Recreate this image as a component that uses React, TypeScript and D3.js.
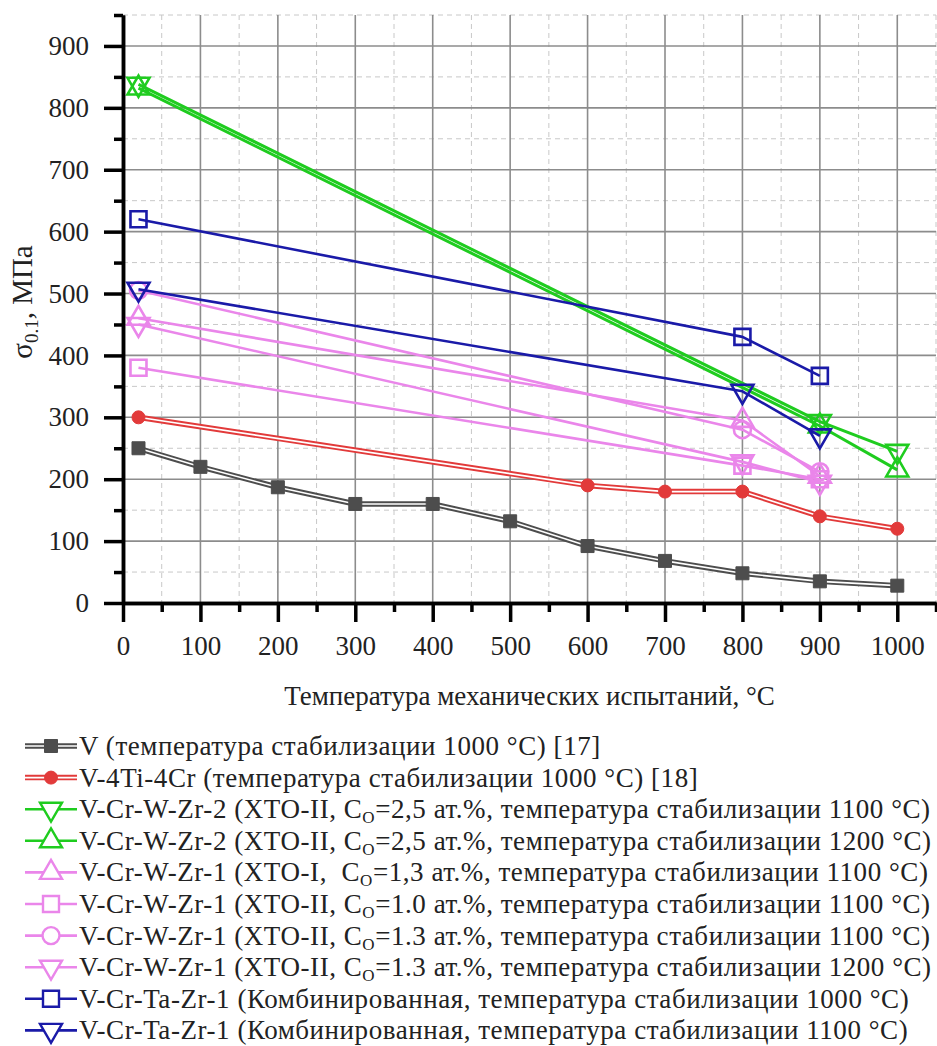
import { useCallback } from "react";
import * as d3 from "d3";

const W = 937;
const H = 1046;

// temperature (°C) and yield strength sigma 0.1 (MPa)
const tempV = [20, 100, 200, 300, 400, 500, 600, 700, 800, 900, 1000];
const sigmaV = [250, 220, 187, 160, 160, 132, 92, 68, 48, 35, 28];

const tempTiCr = [20, 600, 700, 800, 900, 1000];
const sigmaTiCr = [300, 190, 180, 180, 140, 120];

const tempW2 = [20, 900, 1000];
const sigmaW2_1100 = [838, 293, 245];
const sigmaW2_1200 = [832, 286, 215];

const tempW1 = [20, 800, 900];
const sigmaW1_xtoI = [460, 295, 205];
const sigmaW1_10 = [380, 222, 200];
const sigmaW1_13_1100 = [505, 280, 212];
const sigmaW1_13_1200 = [450, 228, 195];

const tempTa = [20, 800, 900];
const sigmaTa_1000 = [620, 430, 367];
const sigmaTa_1100 = [507, 342, 270];

const xMajor = d3.range(0, 1001, 100);
const xMinor = d3.range(50, 1051, 100);
const yMajor = d3.range(0, 901, 100);
const yMinor = d3.range(50, 951, 100);

const labels = [
  ["V (температура стабилизации 1000 °C) [17]", "", ""],
  ["V-4Ti-4Cr (температура стабилизации 1000 °C) [18]", "", ""],
  ["V-Cr-W-Zr-2 (ХТО-II, C", "O", "=2,5 ат.%, температура стабилизации 1100 °C)"],
  ["V-Cr-W-Zr-2 (ХТО-II, C", "O", "=2,5 ат.%, температура стабилизации 1200 °C)"],
  ["V-Cr-W-Zr-1 (ХТО-I,  C", "O", "=1,3 ат.%, температура стабилизации 1100 °C)"],
  ["V-Cr-W-Zr-1 (ХТО-II, C", "O", "=1.0 ат.%, температура стабилизации 1100 °C)"],
  ["V-Cr-W-Zr-1 (ХТО-II, C", "O", "=1.3 ат.%, температура стабилизации 1100 °C)"],
  ["V-Cr-W-Zr-1 (ХТО-II, C", "O", "=1.3 ат.%, температура стабилизации 1200 °C)"],
  ["V-Cr-Ta-Zr-1 (Комбинированная, температура стабилизации 1000 °C)", "", ""],
  ["V-Cr-Ta-Zr-1 (Комбинированная, температура стабилизации 1100 °C)", "", ""],
];

const GRAY = "#4d4d4d";
const RED = "#e23a3a";
const GREEN = "#1fcc1f";
const PINK = "#ea86ea";
const BLUE = "#1a1aa8";

const series = [
  { x: tempV, y: sigmaV, color: GRAY, marker: "square", filled: true, double: true },
  { x: tempTiCr, y: sigmaTiCr, color: RED, marker: "circle", filled: true, double: true },
  { x: tempW2, y: sigmaW2_1100, color: GREEN, marker: "triDown", filled: false, double: false },
  { x: tempW2, y: sigmaW2_1200, color: GREEN, marker: "triUp", filled: false, double: false },
  { x: tempW1, y: sigmaW1_xtoI, color: PINK, marker: "triUp", filled: false, double: false },
  { x: tempW1, y: sigmaW1_10, color: PINK, marker: "square", filled: false, double: false },
  { x: tempW1, y: sigmaW1_13_1100, color: PINK, marker: "circle", filled: false, double: false },
  { x: tempW1, y: sigmaW1_13_1200, color: PINK, marker: "triDown", filled: false, double: false },
  { x: tempTa, y: sigmaTa_1000, color: BLUE, marker: "square", filled: false, double: false },
  { x: tempTa, y: sigmaTa_1100, color: BLUE, marker: "triDown", filled: false, double: false },
];

const FONT = "Liberation Serif, Tinos, Times New Roman, Times, Nimbus Roman, FreeSerif, Noto Serif, DejaVu Serif, serif";

const markerPath = (type, filled) => {
  if (type == "square") {
    const h = filled ? 6.5 : 8;
    return `M${-h},${-h}H${h}V${h}H${-h}Z`;
  }
  if (type == "circle") {
    const r = filled ? 6.5 : 8.5;
    return `M${r},0A${r},${r} 0 1,1 ${-r},0A${r},${r} 0 1,1 ${r},0Z`;
  }
  if (type == "triDown") {
    return "M-11,-6.5L11,-6.5L0,12.5Z";
  }
  return "M-11,6.5L11,6.5L0,-12.5Z";
};

const App = () => {
  const chart = useCallback((node) => {
    if (node == null) return;
    const svg = d3.select(node);
    svg.selectAll("*").remove();

    const marginLeft = 123;
    const marginTop = 15;
    const plotBottom = 603;
    const plotRight = 936;

    const xScale = d3.scaleLinear([0, 1050], [marginLeft, plotRight]);
    const yScale = d3.scaleLinear([0, 950], [plotBottom, marginTop]);

    // grid
    const grid = svg.append("g");
    grid.selectAll(".vminor").data(xMinor).join("line")
      .attr("x1", d => xScale(d)).attr("x2", d => xScale(d))
      .attr("y1", marginTop).attr("y2", plotBottom)
      .attr("stroke", "#c8c8c8").attr("stroke-width", 1).attr("stroke-dasharray", "5,4");
    grid.selectAll(".hminor").data(yMinor).join("line")
      .attr("x1", marginLeft).attr("x2", plotRight)
      .attr("y1", d => yScale(d)).attr("y2", d => yScale(d))
      .attr("stroke", "#c8c8c8").attr("stroke-width", 1).attr("stroke-dasharray", "5,4");
    grid.selectAll(".vmajor").data(xMajor.slice(1)).join("line")
      .attr("x1", d => xScale(d)).attr("x2", d => xScale(d))
      .attr("y1", marginTop).attr("y2", plotBottom)
      .attr("stroke", "#8c8c8c").attr("stroke-width", 1.6);
    grid.selectAll(".hmajor").data(yMajor.slice(1)).join("line")
      .attr("x1", marginLeft).attr("x2", plotRight)
      .attr("y1", d => yScale(d)).attr("y2", d => yScale(d))
      .attr("stroke", "#8c8c8c").attr("stroke-width", 1.6);

    // series
    const line = d3.line().x(d => xScale(d[0])).y(d => yScale(d[1]));
    const drawSeries = (g, s, pts) => {
      if (s.double) {
        g.append("path").attr("d", line(pts)).attr("fill", "none")
          .attr("stroke", s.color).attr("stroke-width", 5.5).attr("stroke-linejoin", "round");
        g.append("path").attr("d", line(pts)).attr("fill", "none")
          .attr("stroke", "#fff").attr("stroke-width", 1.6).attr("stroke-linejoin", "round");
      } else {
        g.append("path").attr("d", line(pts)).attr("fill", "none")
          .attr("stroke", s.color).attr("stroke-width", s.color == GREEN ? 3 : 2.6)
          .attr("stroke-linejoin", "round");
      }
    };
    const drawMarkers = (g, s, pts) => {
      g.selectAll("path.m").data(pts).join("path")
        .attr("class", "m")
        .attr("transform", d => `translate(${xScale(d[0])},${yScale(d[1])})`)
        .attr("d", markerPath(s.marker, s.filled))
        .attr("fill", s.filled ? s.color : "none")
        .attr("stroke", s.color)
        .attr("stroke-width", s.filled ? 1 : 2.6);
    };

    const sg = svg.append("g");
    series.forEach((s) => {
      const pts = s.x.map((t, i) => [t, s.y[i]]);
      const g = sg.append("g");
      drawSeries(g, s, pts);
      drawMarkers(g, s, pts);
    });

    // axes
    const fmt = d3.format("d");
    const yAxisMinor = d3.axisLeft(yScale).tickValues(yMinor).tickSize(9).tickFormat(() => "").tickSizeOuter(0);
    const yAxisMajor = d3.axisLeft(yScale).tickValues(yMajor).tickSize(19).tickPadding(15).tickFormat(fmt).tickSizeOuter(0);
    const xAxisMinor = d3.axisBottom(xScale).tickValues(xMinor).tickSize(9).tickFormat(() => "").tickSizeOuter(0);
    const xAxisMajor = d3.axisBottom(xScale).tickValues(xMajor).tickSize(19).tickPadding(14).tickFormat(fmt).tickSizeOuter(0);

    const styleAxis = (g) => {
      g.attr("font-family", FONT).attr("font-size", 27);
      g.selectAll("line").attr("stroke", "#000").attr("stroke-width", 3.5);
      g.select(".domain").attr("stroke", "#000").attr("stroke-width", 3.5);
      g.selectAll("text").attr("fill", "#222");
    };

    svg.append("g").attr("transform", `translate(${marginLeft},0)`).call(yAxisMinor).call(styleAxis);
    svg.append("g").attr("transform", `translate(${marginLeft},0)`).call(yAxisMajor).call(styleAxis);
    svg.append("g").attr("transform", `translate(0,${plotBottom})`).call(xAxisMinor).call(styleAxis);
    svg.append("g").attr("transform", `translate(0,${plotBottom})`).call(xAxisMajor).call(styleAxis);

    // axis titles
    const yTitle = svg.append("text")
      .attr("transform", `translate(32,302) rotate(-90)`)
      .attr("text-anchor", "middle")
      .attr("fill", "#222")
      .attr("font-family", FONT).attr("font-size", 29);
    yTitle.append("tspan").text("σ");
    yTitle.append("tspan").attr("dy", 6).attr("font-size", 19).text("0.1");
    yTitle.append("tspan").attr("dy", -6).text(", МПа");

    svg.append("text")
      .attr("x", (marginLeft + plotRight) / 2)
      .attr("y", 705)
      .attr("text-anchor", "middle")
      .attr("fill", "#222")
      .attr("font-family", FONT).attr("font-size", 27)
      .text("Температура механических испытаний, °C");

    // legend
    const legend = svg.append("g");
    series.forEach((s, i) => {
      const cy = 746 + i * 31.6;
      const g = legend.append("g");
      const lx = d3.scaleLinear([0, 1], [25, 77]);
      const lp = [[lx(0), cy], [lx(1), cy]];
      const lline = d3.line();
      if (s.double) {
        g.append("path").attr("d", lline(lp)).attr("stroke", s.color).attr("stroke-width", 5.5);
        g.append("path").attr("d", lline(lp)).attr("stroke", "#fff").attr("stroke-width", 1.6);
      } else {
        g.append("path").attr("d", lline(lp)).attr("stroke", s.color).attr("stroke-width", 2.6);
      }
      g.append("path")
        .attr("transform", `translate(${lx(0.5)},${cy})`)
        .attr("d", markerPath(s.marker, s.filled))
        .attr("fill", s.filled ? s.color : "#fff")
        .attr("stroke", s.color)
        .attr("stroke-width", s.filled ? 1 : 2.4);

      const [a, sub, b] = labels[i];
      const t = g.append("text")
        .attr("x", 79).attr("y", cy + 9)
        .attr("fill", "#222")
        .attr("xml:space", "preserve")
        .style("white-space", "pre")
        .style("letter-spacing", "0.55px")
        .attr("font-family", FONT).attr("font-size", 27);
      t.append("tspan").text(a);
      if (sub) {
        t.append("tspan").attr("dy", 5).attr("font-size", 17).text(sub);
        t.append("tspan").attr("dy", -5).text(b);
      }
    });
  }, []);

  return (
    <svg
      ref={chart}
      width={W}
      height={H}
      viewBox={`0 0 ${W} ${H}`}
      style={{ position: "absolute", left: 0, top: 0, background: "#fff" }}
    />
  );
};

export default App;
